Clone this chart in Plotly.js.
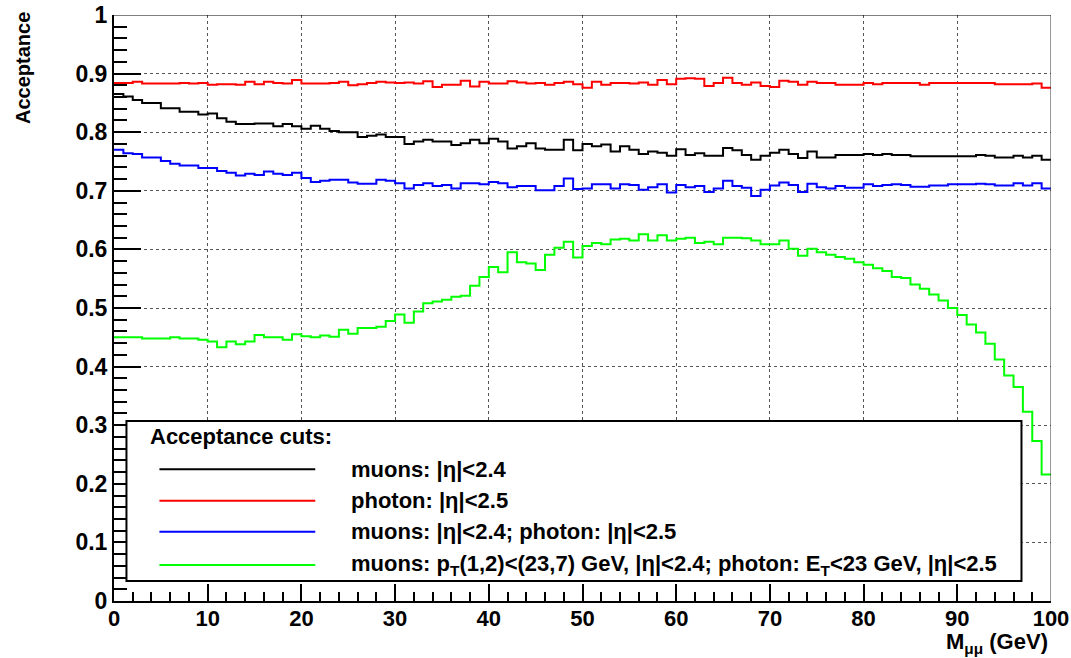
<!DOCTYPE html>
<html>
<head>
<meta charset="utf-8">
<script src="https://cdn.plot.ly/plotly-3.0.1.min.js"></script>
<style>
  html, body { margin: 0; padding: 0; background: #ffffff; }
  #chart { width: 1071px; height: 658px; }
</style>
</head>
<body>
<div id="chart"></div>
<script>
// Bin grid: 100 bins of width 1 GeV from 0 to 100
var binLow = 0, binHigh = 100, nBins = 100;

// Acceptance per bin
var muonsEta = [
  0.865,0.861,0.855,0.850,0.850,0.841,0.841,0.835,0.835,0.830,
  0.832,0.824,0.818,0.814,0.814,0.815,0.815,0.810,0.814,0.810,
  0.806,0.811,0.806,0.802,0.800,0.800,0.792,0.794,0.796,0.792,
  0.792,0.780,0.784,0.787,0.784,0.784,0.778,0.781,0.787,0.781,
  0.789,0.784,0.772,0.776,0.781,0.772,0.770,0.770,0.787,0.769,
  0.780,0.776,0.779,0.767,0.776,0.770,0.763,0.767,0.765,0.760,
  0.771,0.761,0.764,0.760,0.760,0.773,0.769,0.761,0.753,0.760,
  0.765,0.770,0.763,0.756,0.767,0.757,0.757,0.761,0.761,0.761,
  0.763,0.761,0.763,0.761,0.761,0.759,0.759,0.759,0.759,0.759,
  0.759,0.759,0.761,0.760,0.757,0.757,0.760,0.757,0.760,0.753
];
var photonEta = [
  0.884,0.884,0.886,0.883,0.883,0.883,0.883,0.884,0.883,0.884,
  0.881,0.882,0.882,0.881,0.886,0.882,0.886,0.884,0.883,0.889,
  0.883,0.883,0.883,0.884,0.886,0.880,0.882,0.884,0.886,0.885,
  0.884,0.885,0.883,0.887,0.877,0.881,0.881,0.888,0.878,0.886,
  0.883,0.883,0.887,0.885,0.883,0.884,0.881,0.884,0.886,0.882,
  0.876,0.886,0.881,0.884,0.884,0.883,0.885,0.881,0.889,0.882,
  0.891,0.892,0.891,0.879,0.884,0.893,0.884,0.881,0.885,0.879,
  0.877,0.888,0.886,0.881,0.886,0.884,0.884,0.881,0.881,0.881,
  0.884,0.882,0.884,0.884,0.884,0.884,0.881,0.884,0.884,0.884,
  0.884,0.884,0.884,0.884,0.882,0.882,0.882,0.882,0.883,0.876
];
var muonsPhotonEta = [
  0.770,0.764,0.763,0.757,0.757,0.751,0.746,0.743,0.743,0.739,
  0.739,0.734,0.731,0.726,0.729,0.727,0.733,0.729,0.727,0.731,
  0.722,0.715,0.717,0.719,0.719,0.714,0.712,0.712,0.719,0.717,
  0.713,0.704,0.710,0.713,0.708,0.710,0.704,0.713,0.713,0.711,
  0.715,0.713,0.706,0.708,0.708,0.701,0.701,0.708,0.721,0.703,
  0.704,0.711,0.711,0.704,0.711,0.710,0.702,0.706,0.711,0.697,
  0.710,0.706,0.708,0.698,0.704,0.717,0.708,0.705,0.691,0.702,
  0.709,0.714,0.710,0.698,0.712,0.706,0.704,0.708,0.705,0.705,
  0.711,0.708,0.710,0.711,0.710,0.707,0.707,0.709,0.709,0.711,
  0.711,0.711,0.712,0.711,0.709,0.709,0.713,0.709,0.713,0.704
];
var fullCuts = [
  0.450,0.450,0.450,0.448,0.448,0.448,0.450,0.448,0.448,0.446,
  0.443,0.433,0.443,0.438,0.443,0.454,0.450,0.450,0.446,0.455,
  0.452,0.450,0.453,0.451,0.463,0.456,0.466,0.466,0.468,0.478,
  0.489,0.475,0.494,0.508,0.511,0.514,0.519,0.521,0.538,0.553,
  0.570,0.561,0.595,0.578,0.576,0.565,0.591,0.603,0.613,0.586,
  0.606,0.611,0.609,0.617,0.618,0.615,0.626,0.615,0.624,0.615,
  0.618,0.620,0.611,0.613,0.609,0.620,0.620,0.619,0.615,0.609,
  0.609,0.615,0.601,0.589,0.601,0.595,0.591,0.587,0.584,0.578,
  0.574,0.568,0.563,0.553,0.551,0.540,0.533,0.523,0.513,0.500,
  0.488,0.472,0.458,0.439,0.412,0.385,0.365,0.323,0.273,0.216
];

var seriesNames = [
  "muons: |η|&lt;2.4",
  "photon: |η|&lt;2.5",
  "muons: |η|&lt;2.4; photon: |η|&lt;2.5",
  "muons: p<sub>T</sub>(1,2)&lt;(23,7) GeV, |η|&lt;2.4; photon: E<sub>T</sub>&lt;23 GeV, |η|&lt;2.5"
];
var seriesColors = ["#000000", "#ff0000", "#0000ff", "#00ff00"];
var seriesData = [muonsEta, photonEta, muonsPhotonEta, fullCuts];

var legendTitle = "Acceptance cuts:";
var yTitle = "Acceptance";
var xTitle = "M<sub>μμ</sub> (GeV)";

// bin edges
var binWidth = (binHigh - binLow) / nBins;
var edges = [];
for (var i = 0; i <= nBins; i++) edges.push(binLow + i * binWidth);

var traces = seriesData.map(function (vals, k) {
  return {
    type: "scatter",
    mode: "lines",
    x: edges,
    y: vals.concat([vals[vals.length - 1]]),
    line: { shape: "hv", color: seriesColors[k], width: 2 },
    name: seriesNames[k],
    hoverinfo: "skip"
  };
});

var boldFont = "Liberation Sans, Arial, Helvetica, sans-serif";
var narrowFont = "Liberation Sans Narrow, Arial Narrow, Liberation Sans, sans-serif";

// legend geometry in data coordinates
var box = { x0: 1.33, x1: 96.85, y0: 0.034, y1: 0.307 };
var legLine = { x0: 4.85, x1: 21.48 };
var legTextX = 25.1;
var legRowsY = [0.2249, 0.1709, 0.118, 0.0613];

var shapes = [
  { type: "line", xref: "x", yref: "y", x0: 0, x1: 100, y0: 1, y1: 1, line: { color: "#000", width: 1 } },
  { type: "line", xref: "x", yref: "y", x0: 100, x1: 100, y0: 0, y1: 1, line: { color: "#333", width: 1 } },
  { type: "rect", xref: "x", yref: "y", x0: box.x0, x1: box.x1, y0: box.y0, y1: box.y1,
    fillcolor: "#ffffff", line: { color: "#000", width: 2 }, layer: "above" }
];
var annotations = [
  { xref: "x", yref: "y", x: 3.68, y: 0.281, xanchor: "left", yanchor: "middle", showarrow: false,
    text: legendTitle, font: { family: boldFont, size: 22, weight: "bold", color: "#000" } },
  { xref: "paper", yref: "paper", x: -0.0971, y: 0.9096, xanchor: "center", yanchor: "middle",
    textangle: -90, showarrow: false, text: yTitle,
    font: { family: boldFont, size: 20, weight: "bold", color: "#000" } },
  { xref: "paper", yref: "paper", x: 0.9989, y: -0.0725, xanchor: "right", yanchor: "middle",
    showarrow: false, text: xTitle,
    font: { family: narrowFont, size: 22, weight: "bold", color: "#000" } }
];
for (var k = 0; k < 4; k++) {
  shapes.push({ type: "line", xref: "x", yref: "y", x0: legLine.x0, x1: legLine.x1,
    y0: legRowsY[k], y1: legRowsY[k], line: { color: seriesColors[k], width: 2 }, layer: "above" });
  annotations.push({ xref: "x", yref: "y", x: legTextX, y: legRowsY[k], xanchor: "left", yanchor: "middle",
    showarrow: false, text: seriesNames[k],
    font: { family: boldFont, size: 22, weight: "bold", color: "#000" } });
}

var layout = {
  width: 1071, height: 658,
  margin: { l: 114, r: 20, t: 15, b: 57, pad: 0 },
  paper_bgcolor: "#ffffff", plot_bgcolor: "#ffffff",
  showlegend: false,
  xaxis: {
    range: [0, 100], tick0: 0, dtick: 10,
    ticks: "inside", ticklen: 17, tickwidth: 2, tickcolor: "#000",
    minor: { dtick: 2, ticks: "inside", ticklen: 9, tickwidth: 2, tickcolor: "#000", showgrid: false },
    showgrid: true, gridcolor: "#555", griddash: "dot", gridwidth: 1,
    showline: true, linecolor: "#000", linewidth: 2, zeroline: false,
    ticklabelstandoff: -3,
    tickfont: { family: narrowFont, size: 22, weight: "bold", color: "#000" }
  },
  yaxis: {
    range: [0, 1], tick0: 0, dtick: 0.1,
    ticks: "inside", ticklen: 27, tickwidth: 2, tickcolor: "#000",
    minor: { dtick: 0.02, ticks: "inside", ticklen: 13, tickwidth: 2, tickcolor: "#000", showgrid: false },
    showgrid: true, gridcolor: "#555", griddash: "dot", gridwidth: 1,
    showline: true, linecolor: "#000", linewidth: 2, zeroline: false,
    tickfont: { family: boldFont, size: 23, weight: "bold", color: "#000" }
  },
  shapes: shapes,
  annotations: annotations
};

Plotly.newPlot("chart", traces, layout, { displayModeBar: false, staticPlot: true });
</script>
</body>
</html>
